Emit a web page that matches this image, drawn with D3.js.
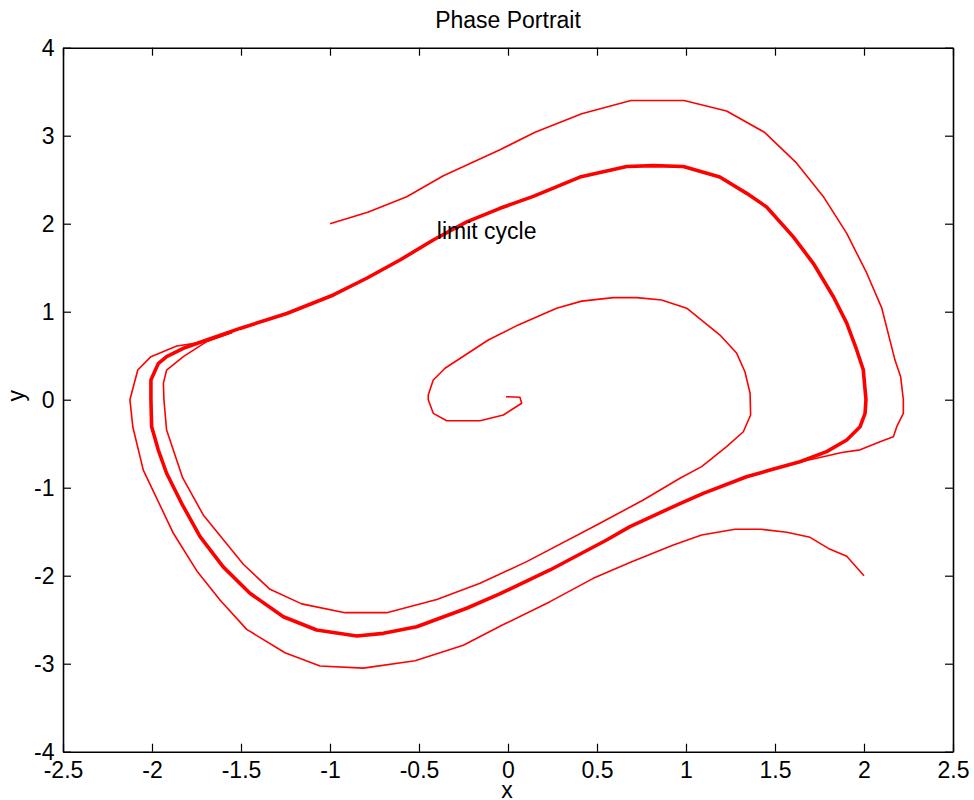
<!DOCTYPE html>
<html>
<head>
<meta charset="utf-8">
<script src="https://cdn.jsdelivr.net/npm/d3@7"></script>
<style>
  body { margin: 0; background: #fff; }
  svg { display: block; font-family: "Liberation Sans", Arial, sans-serif; }
</style>
</head>
<body>
<svg id="chart" width="974" height="800"></svg>
<script>
// ---- data ----
const xTicks = [-2.5, -2, -1.5, -1, -0.5, 0, 0.5, 1, 1.5, 2, 2.5];
const xTickLabels = ["-2.5", "-2", "-1.5", "-1", "-0.5", "0", "0.5", "1", "1.5", "2", "2.5"];
const yTicks = [-4, -3, -2, -1, 0, 1, 2, 3, 4];
const yTickLabels = ["-4", "-3", "-2", "-1", "0", "1", "2", "3", "4"];

// trajectory starting at (-1, 2)
const trajA = [
  [-1, 2], [-0.788, 2.13], [-0.569, 2.307], [-0.363, 2.545], [-0.195, 2.70], [-0.045, 2.84],
  [0.152, 3.04], [0.414, 3.25], [0.691, 3.40], [0.989, 3.40], [1.228, 3.28], [1.44, 3.04],
  [1.616, 2.70], [1.771, 2.31], [1.903, 1.89], [2.015, 1.44], [2.10, 1.04], [2.174, 0.45],
  [2.206, 0.26], [2.221, 0.0], [2.221, -0.155], [2.184, -0.307], [2.165, -0.42], [2.09, -0.477],
  [1.978, -0.57], [1.875, -0.60], [1.734, -0.666], [1.60, -0.725]
];
// trajectory starting at (2, -2)
const trajB = [
  [2, -2], [1.903, -1.78], [1.80, -1.69], [1.697, -1.564], [1.566, -1.507], [1.425, -1.473],
  [1.275, -1.473], [1.088, -1.538], [0.929, -1.65], [0.685, -1.85], [0.479, -2.03], [0.236, -2.295],
  [-0.026, -2.555], [-0.251, -2.79], [-0.522, -2.966], [-0.813, -3.05], [-1.056, -3.026],
  [-1.253, -2.875], [-1.468, -2.61], [-1.618, -2.276], [-1.749, -1.943], [-1.88, -1.518],
  [-2.049, -0.80], [-2.108, -0.307], [-2.124, 0], [-2.08, 0.337], [-2.006, 0.489],
  [-1.861, 0.61], [-1.693, 0.66], [-1.55, 0.765]
];
// trajectory spiralling out from the origin
const trajC = [
  [-0.011, 0.034], [0.067, 0.027], [0.077, -0.04], [-0.026, -0.174], [-0.157, -0.24], [-0.344, -0.24],
  [-0.42, -0.155], [-0.448, 0], [-0.448, 0.053], [-0.42, 0.224], [-0.354, 0.357], [-0.111, 0.678],
  [0.058, 0.85], [0.273, 1.04], [0.414, 1.12], [0.592, 1.16], [0.723, 1.16], [0.863, 1.133],
  [1.004, 1.04], [1.191, 0.735], [1.285, 0.527], [1.331, 0.318], [1.36, 0.073], [1.363, -0.174],
  [1.322, -0.364], [1.228, -0.534], [1.088, -0.761], [0.966, -0.893], [0.76, -1.14], [0.498, -1.424],
  [0.105, -1.84], [-0.157, -2.086], [-0.40, -2.27], [-0.681, -2.42], [-0.916, -2.42], [-1.159, -2.32],
  [-1.337, -2.155], [-1.487, -1.87], [-1.712, -1.31], [-1.828, -0.886], [-1.918, -0.344], [-1.933, 0],
  [-1.936, 0.186], [-1.918, 0.337], [-1.824, 0.489], [-1.693, 0.66], [-1.55, 0.765]
];
// limit cycle (where all trajectories pile up)
const limitCycle = [
  [-2.006, 0], [-2.006, 0.224], [-1.965, 0.41], [-1.918, 0.49], [-1.824, 0.584], [-1.693, 0.678],
  [-1.506, 0.81], [-1.243, 0.98], [-0.981, 1.19], [-0.794, 1.38], [-0.607, 1.587], [-0.42, 1.815],
  [-0.232, 2.02], [-0.045, 2.175], [0.142, 2.31], [0.404, 2.53], [0.667, 2.65], [0.816, 2.66],
  [0.985, 2.65], [1.19, 2.53], [1.341, 2.345], [1.453, 2.19], [1.603, 1.85], [1.715, 1.55],
  [1.828, 1.17], [1.903, 0.87], [1.959, 0.565], [1.996, 0.34], [2.011, 0.0], [2.006, -0.155],
  [1.978, -0.307], [1.903, -0.458], [1.79, -0.59], [1.64, -0.705], [1.472, -0.80], [1.34, -0.875],
  [1.097, -1.064], [0.966, -1.18], [0.685, -1.443], [0.554, -1.594], [0.236, -1.935], [-0.05, -2.21],
  [-0.232, -2.37], [-0.513, -2.58], [-0.70, -2.655], [-0.85, -2.685], [-1.075, -2.617], [-1.262, -2.466],
  [-1.45, -2.2], [-1.60, -1.90], [-1.73, -1.557], [-1.833, -1.18], [-1.918, -0.836], [-1.965, -0.57],
  [-2.002, -0.307], [-2.006, 0]
];
const titleText = "Phase Portrait";
const xLabel = "x";
const yLabel = "y";
const annotation = { text: "limit cycle", x: -0.4, y: 1.9 };

// ---- layout ----
const svg = d3.select("#chart");
const W = 974, H = 800;
const margin = { left: 63, right: 21, top: 47.7, bottom: 48.3 };
const iw = W - margin.left - margin.right;
const ih = H - margin.top - margin.bottom;
const FS = 23;

const x = d3.scaleLinear().domain([-2.5, 2.5]).range([margin.left, margin.left + iw]);
const y = d3.scaleLinear().domain([-4, 4]).range([margin.top + ih, margin.top]);

// curves
const line = d3.line().x(d => x(d[0])).y(d => y(d[1]));
const g = svg.append("g");
g.append("path").datum(limitCycle).attr("d", line)
  .attr("fill", "none").attr("stroke", "#ff0000").attr("stroke-width", 3.6)
  .attr("stroke-linejoin", "round");
[trajA, trajB, trajC].forEach(t => {
  g.append("path").datum(t).attr("d", line)
    .attr("fill", "none").attr("stroke", "#ff0000").attr("stroke-width", 1.6)
    .attr("stroke-linejoin", "round");
});

// axes
function styleAxis(sel) {
  sel.selectAll(".domain").attr("stroke", "#000").attr("stroke-width", 1.6);
  sel.selectAll(".tick line").attr("stroke", "#000").attr("stroke-width", 1.2);
  sel.selectAll(".tick text").attr("fill", "#000")
    .style("font-size", FS + "px").style("font-family", "'Liberation Sans', Arial, sans-serif");
}
svg.append("g").attr("transform", `translate(0,${margin.top + ih})`)
  .call(d3.axisBottom(x).tickValues(xTicks).tickFormat((d, i) => xTickLabels[i])
    .tickSizeInner(-8).tickSizeOuter(0).tickPadding(10))
  .call(styleAxis);
svg.append("g").attr("transform", `translate(0,${margin.top})`)
  .call(d3.axisTop(x).tickValues(xTicks).tickFormat("")
    .tickSizeInner(-8).tickSizeOuter(0))
  .call(styleAxis);
svg.append("g").attr("transform", `translate(${margin.left},0)`)
  .call(d3.axisLeft(y).tickValues(yTicks).tickFormat((d, i) => yTickLabels[i])
    .tickSizeInner(-8).tickSizeOuter(0).tickPadding(8.5))
  .call(styleAxis);
svg.append("g").attr("transform", `translate(${margin.left + iw},0)`)
  .call(d3.axisRight(y).tickValues(yTicks).tickFormat("")
    .tickSizeInner(-8).tickSizeOuter(0))
  .call(styleAxis);

// texts
svg.append("text").attr("x", margin.left + iw / 2).attr("y", 28)
  .attr("text-anchor", "middle").style("font-size", FS + "px").text(titleText);
svg.append("text").attr("x", x(0) - 1).attr("y", 798)
  .attr("text-anchor", "middle").style("font-size", FS + "px").text(xLabel);
svg.append("text").attr("transform", `translate(24,${y(0) - 4}) rotate(-90)`)
  .attr("text-anchor", "middle").style("font-size", FS + "px").text(yLabel);
svg.append("text").attr("x", x(annotation.x)).attr("y", y(annotation.y) + 6)
  .style("font-size", FS + "px").text(annotation.text);
</script>
</body>
</html>
